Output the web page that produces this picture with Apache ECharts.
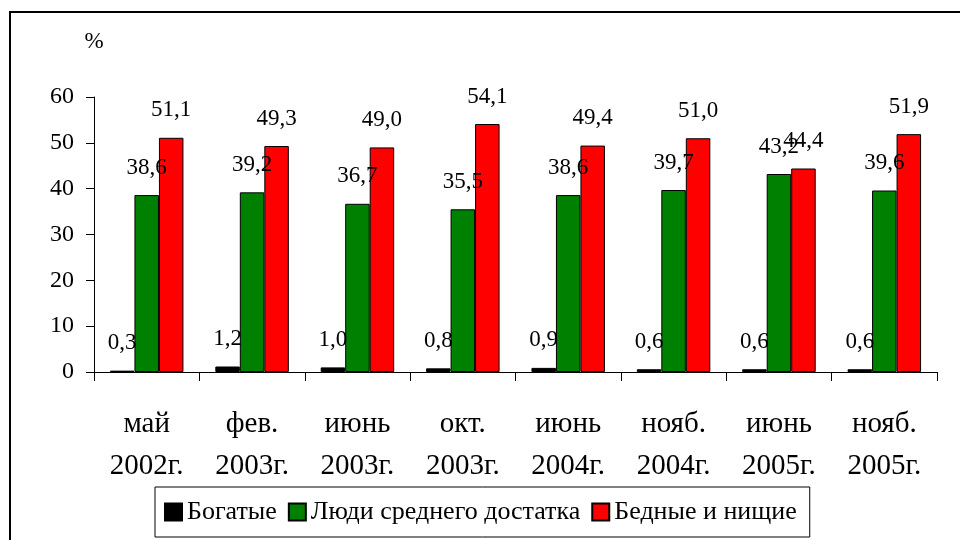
<!DOCTYPE html>
<html>
<head>
<meta charset="utf-8">
<script src="https://cdn.jsdelivr.net/npm/echarts@6/dist/echarts.min.js"></script>
<style>
  html, body { margin: 0; padding: 0; background: #fff; }
  #myChart { width: 960px; height: 540px; }
</style>
</head>
<body>
<div id="myChart"></div>
<script>
// категории (период опроса)
var categories = ['май\n2002г.', 'фев.\n2003г.', 'июнь\n2003г.', 'окт.\n2003г.',
                  'июнь\n2004г.', 'нояб.\n2004г.', 'июнь\n2005г.', 'нояб.\n2005г.'];
var rich   = [0.3, 1.2, 1.0, 0.8, 0.9, 0.6, 0.6, 0.6];
var middle = [38.6, 39.2, 36.7, 35.5, 38.6, 39.7, 43.2, 39.6];
var poor   = [51.1, 49.3, 49.0, 54.1, 49.4, 51.0, 44.4, 51.9];
var yTicks = [0, 10, 20, 30, 40, 50, 60];

var serif = 'Liberation Serif';

function makeSeries(name, data, color) {
  return {
    name: name,
    type: 'bar',
    data: data,
    barWidth: 24.5,
    barGap: '0%',
    itemStyle: { color: color, borderColor: '#000', borderWidth: 1 },
    label: {
      show: true,
      position: 'top',
      distance: 16,
      color: '#000',
      fontFamily: serif,
      fontSize: 23,
      formatter: function (p) { return p.value.toFixed(1).replace('.', ','); }
    }
  };
}

var myChart = echarts.init(document.getElementById('myChart'));
myChart.setOption({
  animation: false,
  backgroundColor: '#fff',
  textStyle: { fontFamily: serif, color: '#000' },
  // рамка вокруг диаграммы
  graphic: [{
    type: 'rect',
    shape: { x: 10, y: 12, width: 980, height: 560 },
    style: { fill: 'none', stroke: '#000', lineWidth: 2 },
    silent: true
  }],
  grid: { left: 94, right: 23, top: 97, bottom: 168 },
  legend: {
    left: 155,
    top: 487,
    padding: [12, 13, 12, 9],
    itemGap: 11,
    itemWidth: 17,
    itemHeight: 17,
    icon: 'rect',
    borderColor: '#000',
    borderWidth: 1,
    textStyle: { fontFamily: serif, fontSize: 26, color: '#000' },
    data: ['Богатые', 'Люди среднего достатка', 'Бедные и нищие']
  },
  xAxis: {
    type: 'category',
    data: categories,
    axisLine: { lineStyle: { color: '#000', width: 1 } },
    axisTick: { show: true, length: 9, lineStyle: { color: '#000' } },
    axisLabel: {
      color: '#000',
      fontFamily: serif,
      fontSize: 29,
      lineHeight: 42,
      margin: 31,
      interval: 0
    }
  },
  yAxis: {
    type: 'value',
    min: yTicks[0],
    max: yTicks[yTicks.length - 1],
    interval: 10,
    name: '%',
    nameGap: 44,
    nameTextStyle: { fontFamily: serif, fontSize: 23, color: '#000', align: 'center' },
    axisLine: { show: true, lineStyle: { color: '#000', width: 1 } },
    axisTick: { show: true, length: 8, lineStyle: { color: '#000' } },
    splitLine: { show: false },
    axisLabel: { color: '#000', fontFamily: serif, fontSize: 24, margin: 20 }
  },
  series: [
    makeSeries('Богатые', rich, '#000000'),
    makeSeries('Люди среднего достатка', middle, '#008000'),
    makeSeries('Бедные и нищие', poor, '#ff0000')
  ]
});
</script>
</body>
</html>
